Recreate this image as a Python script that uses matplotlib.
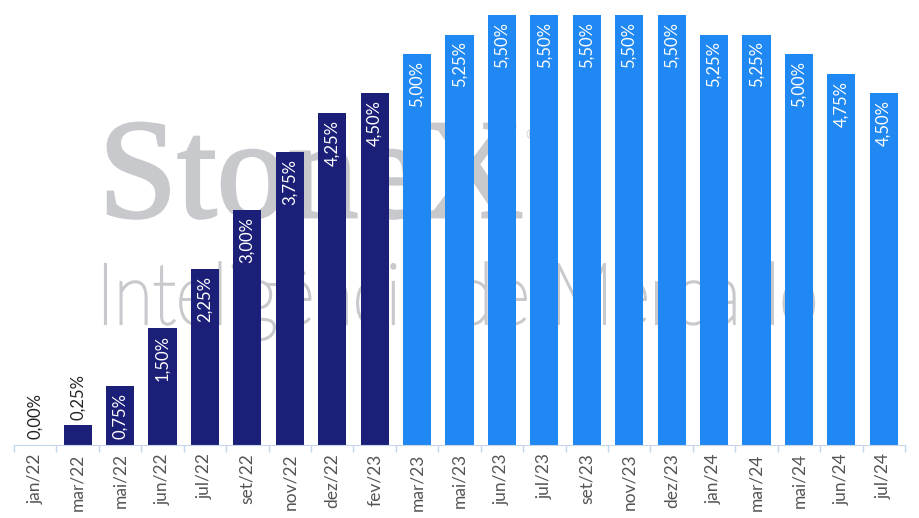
import matplotlib.pyplot as plt
import numpy as np
from matplotlib.font_manager import FontProperties
from matplotlib.patches import PathPatch
from matplotlib.textpath import TextPath
from matplotlib.transforms import Affine2D

months = ["jan/22", "mar/22", "mai/22", "jun/22", "jul/22", "set/22", "nov/22",
          "dez/22", "fev/23", "mar/23", "mai/23", "jun/23", "jul/23", "set/23",
          "nov/23", "dez/23", "jan/24", "mar/24", "mai/24", "jun/24", "jul/24"]
rates = [0.00, 0.25, 0.75, 1.50, 2.25, 3.00, 3.75, 4.25, 4.50,
         5.00, 5.25, 5.50, 5.50, 5.50, 5.50, 5.50, 5.25, 5.25, 5.00, 4.75, 4.50]
n_hikes = 9  # first bars (hiking cycle) in navy

NAVY = "#1b1f78"
BLUE = "#1f88f2"
AXIS = "#c5d5ea"
MARK = "#c8c9cc"

W, H = 920, 518

plt.rcParams["font.family"] = ["Lato", "DejaVu Sans"]

fig = plt.figure(figsize=(W / 100, H / 100), dpi=100)
ax = fig.add_axes([14 / W, 73 / H, 891 / W, 430 / H])
px = Affine2D().scale(1 / W, 1 / H) + fig.transFigure  # pixel coords, origin bottom-left


def watermark(s, prop, left, right, cap_top, baseline, lw):
    # fit a text outline into a box given in pixels from the top-left corner
    tp = TextPath((0, 0), s, size=1, prop=prop)
    cap = TextPath((0, 0), "I", size=1, prop=prop).get_extents()
    ext = tp.get_extents()
    sx = (right - left) / ext.width
    sy = (baseline - cap_top) / cap.y1
    tr = Affine2D().translate(-ext.x0, 0).scale(sx, sy).translate(left, H - baseline)
    patch = PathPatch(tr.transform_path(tp), facecolor=MARK, edgecolor=MARK,
                      linewidth=lw, transform=px, zorder=1, clip_on=False)
    ax.add_patch(patch)


watermark("StoneX", FontProperties(family="Liberation Serif"), 108, 521, 124, 217, 2.0)
watermark("Inteligência de Mercado", FontProperties(family="Lato", weight="light"),
          105, 814, 264, 324, 1.6)
ax.text(531, H - 135, "®", transform=px, fontsize=9, color=MARK, ha="center",
        va="center", zorder=1)

x = np.arange(len(months))
colors = [NAVY if i < n_hikes else BLUE for i in range(len(months))]
bars = ax.bar(x, rates, width=0.66, color=colors, zorder=2)

for b, v in zip(bars, rates):
    label = f"{v:.2f}%".replace(".", ",")
    cx = b.get_x() + b.get_width() / 2
    if v < 0.5:
        ax.annotate(label, (cx, v), xytext=(0, 4), textcoords="offset points",
                    rotation=90, ha="center", va="bottom", fontsize=12,
                    color="#222222", zorder=3)
    else:
        ax.annotate(label, (cx, v), xytext=(0, -5), textcoords="offset points",
                    rotation=90, ha="center", va="top", fontsize=12,
                    color="white", zorder=3)

ax.set_xlim(-0.5, len(months) - 0.5)
ax.set_ylim(0, 5.5)
ax.set_xticks(x)
ax.set_xticklabels(months, rotation=90, fontsize=12.5, color="#555555")
ax.set_xticks(np.arange(-0.5, len(months)), minor=True)
ax.tick_params(axis="x", which="major", length=0, pad=6)
ax.tick_params(axis="x", which="minor", length=5, color=AXIS, width=1)
ax.set_yticks([])
for s in ["left", "right", "top"]:
    ax.spines[s].set_visible(False)
ax.spines["bottom"].set_color(AXIS)
ax.patch.set_alpha(0)

fig.savefig("out.png", dpi=100)
